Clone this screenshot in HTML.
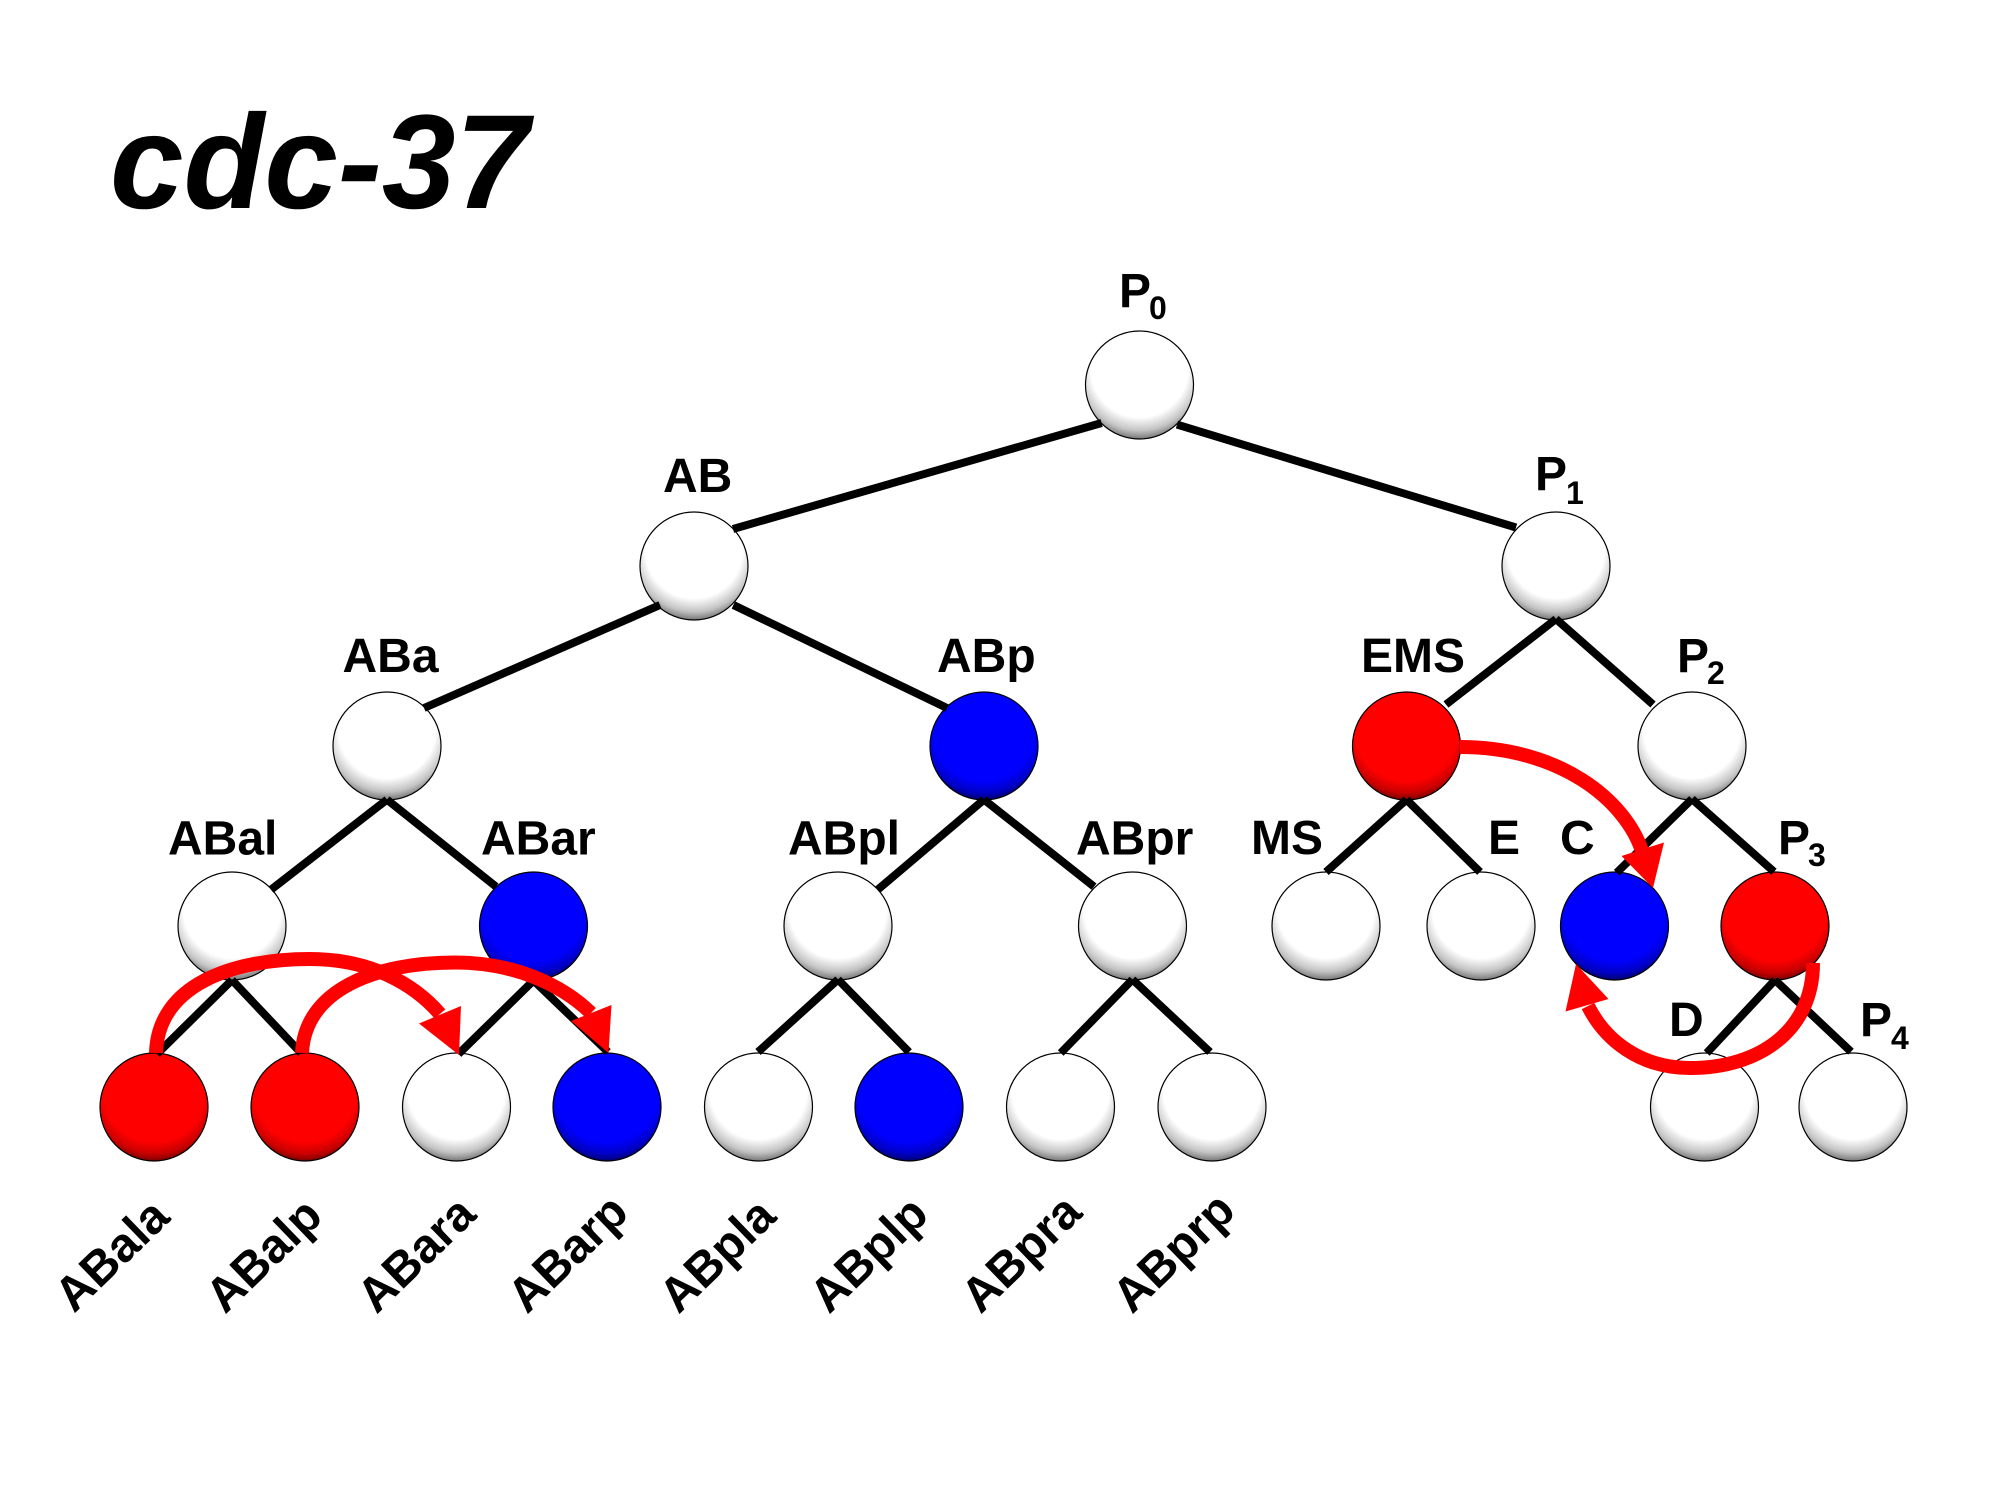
<!DOCTYPE html>
<html>
<head>
<meta charset="utf-8">
<style>
  html, body { margin: 0; padding: 0; background: #ffffff; }
  svg { display: block; }
  text { font-family: "Liberation Sans", "DejaVu Sans", sans-serif; font-weight: bold; fill: #000; }
</style>
</head>
<body>
<svg width="1990" height="1493" viewBox="0 0 1990 1493" xmlns="http://www.w3.org/2000/svg">
  <defs>
    <radialGradient id="gw" cx="50%" cy="35%" r="68%">
      <stop offset="0" stop-color="#ffffff"/>
      <stop offset="0.66" stop-color="#ffffff"/>
      <stop offset="0.84" stop-color="#c4c4c4"/>
      <stop offset="1" stop-color="#5a5a5a"/>
    </radialGradient>
    <radialGradient id="gr" cx="50%" cy="35%" r="68%">
      <stop offset="0" stop-color="#ff0000"/>
      <stop offset="0.70" stop-color="#ff0000"/>
      <stop offset="0.86" stop-color="#c80000"/>
      <stop offset="1" stop-color="#580000"/>
    </radialGradient>
    <radialGradient id="gb" cx="50%" cy="35%" r="68%">
      <stop offset="0" stop-color="#0000ff"/>
      <stop offset="0.70" stop-color="#0000ff"/>
      <stop offset="0.86" stop-color="#0000c4"/>
      <stop offset="1" stop-color="#00004a"/>
    </radialGradient>
  </defs>

  <rect width="1990" height="1493" fill="#ffffff"/>

  <!-- Title -->
  <text x="110" y="208" font-size="134" font-style="italic" textLength="419" lengthAdjust="spacingAndGlyphs">cdc-37</text>

  <!-- Nodes -->
  <g stroke="#000" stroke-width="1.2">
    <circle cx="1139.5" cy="385" r="54" fill="url(#gw)"/>
    <circle cx="694" cy="566" r="54" fill="url(#gw)"/>
    <circle cx="1556" cy="566" r="54" fill="url(#gw)"/>
    <circle cx="387" cy="746" r="54" fill="url(#gw)"/>
    <circle cx="984" cy="746" r="54" fill="url(#gb)"/>
    <circle cx="1406.5" cy="746" r="54" fill="url(#gr)"/>
    <circle cx="1692" cy="746" r="54" fill="url(#gw)"/>
    <circle cx="232" cy="926" r="54" fill="url(#gw)"/>
    <circle cx="533.5" cy="926" r="54" fill="url(#gb)"/>
    <circle cx="838" cy="926" r="54" fill="url(#gw)"/>
    <circle cx="1132.5" cy="926" r="54" fill="url(#gw)"/>
    <circle cx="1326" cy="926" r="54" fill="url(#gw)"/>
    <circle cx="1481" cy="926" r="54" fill="url(#gw)"/>
    <circle cx="1614.5" cy="926" r="54" fill="url(#gb)"/>
    <circle cx="1775" cy="926" r="54" fill="url(#gr)"/>
    <circle cx="154" cy="1107" r="54" fill="url(#gr)"/>
    <circle cx="305" cy="1107" r="54" fill="url(#gr)"/>
    <circle cx="456.5" cy="1107" r="54" fill="url(#gw)"/>
    <circle cx="607" cy="1107" r="54" fill="url(#gb)"/>
    <circle cx="758.5" cy="1107" r="54" fill="url(#gw)"/>
    <circle cx="909" cy="1107" r="54" fill="url(#gb)"/>
    <circle cx="1060.5" cy="1107" r="54" fill="url(#gw)"/>
    <circle cx="1212" cy="1107" r="54" fill="url(#gw)"/>
    <circle cx="1704.5" cy="1107" r="54" fill="url(#gw)"/>
    <circle cx="1853" cy="1107" r="54" fill="url(#gw)"/>
  </g>

  <!-- Tree lines -->
  <g stroke="#000" stroke-width="8" stroke-linecap="butt" fill="none">
    <line x1="1101.6" y1="423" x2="733" y2="529"/>
    <line x1="1177" y1="424.6" x2="1516" y2="527.5"/>
    <line x1="660" y1="605" x2="424" y2="708"/>
    <line x1="733.4" y1="605" x2="947" y2="708"/>
    <line x1="1556" y1="619" x2="1446" y2="704.5"/>
    <line x1="1556" y1="619" x2="1653" y2="704.5"/>
    <line x1="387" y1="799.6" x2="271" y2="889.7"/>
    <line x1="387" y1="799.6" x2="496" y2="886.6"/>
    <line x1="984" y1="799.6" x2="877.7" y2="889.7"/>
    <line x1="984" y1="799.6" x2="1094" y2="886.6"/>
    <line x1="1406.5" y1="799.6" x2="1326" y2="872"/>
    <line x1="1406.5" y1="799.6" x2="1480" y2="872"/>
    <line x1="1692" y1="799" x2="1616.7" y2="872.7"/>
    <line x1="1692" y1="799" x2="1774" y2="871.7"/>
    <line x1="232" y1="980" x2="157" y2="1054"/>
    <line x1="232" y1="980" x2="301" y2="1053"/>
    <line x1="533.5" y1="980.5" x2="458.5" y2="1054"/>
    <line x1="533.5" y1="980.5" x2="608" y2="1052"/>
    <line x1="838" y1="979.5" x2="758" y2="1052"/>
    <line x1="838" y1="979.5" x2="909" y2="1052"/>
    <line x1="1132.5" y1="979.5" x2="1060.7" y2="1053"/>
    <line x1="1132.5" y1="979.5" x2="1210" y2="1052"/>
    <line x1="1775" y1="980" x2="1706.7" y2="1053"/>
    <line x1="1775" y1="980" x2="1851" y2="1051.7"/>
  </g>

  <!-- Red arrows -->
  <g stroke="#ff0000" stroke-width="14" fill="none" stroke-linecap="butt">
    <path d="M156,1053 C158,985 232,959 310,959 C372,959 415,985 440,1014"/>
    <path d="M302,1053 C305,990 375,962.5 455,962.5 C515,962.5 562,985 591,1013"/>
    <path d="M1460,747 C1560,747 1625,800 1642,851"/>
    <path d="M1813,963 C1813,1030 1760,1068 1690,1068 C1640,1068 1605,1040 1588,1006"/>
  </g>
  <g fill="#ff0000" stroke="none">
    <polygon points="419,1023.5 461,1006 459,1055"/>
    <polygon points="571,1021 611.5,1005 608.5,1053"/>
    <polygon points="1621.5,856 1664,842.5 1653,888"/>
    <polygon points="1565.5,1011.5 1608.5,999 1576,964"/>
  </g>

  <!-- Horizontal labels -->
  <g font-size="48">
    <text x="1119" y="307">P</text>
    <text x="1149" y="319" font-size="32">0</text>
    <text x="663" y="492">AB</text>
    <text x="1535" y="490">P</text>
    <text x="1566" y="504" font-size="32">1</text>
    <text x="342.5" y="672">ABa</text>
    <text x="937" y="672">ABp</text>
    <text x="1361" y="672">EMS</text>
    <text x="1677" y="672">P</text>
    <text x="1707" y="684" font-size="32">2</text>
    <text x="168" y="854.5">ABal</text>
    <text x="481" y="854.5">ABar</text>
    <text x="788" y="854.5">ABpl</text>
    <text x="1076" y="854.5">ABpr</text>
    <text x="1251" y="854">MS</text>
    <text x="1488" y="854">E</text>
    <text x="1560" y="854">C</text>
    <text x="1778" y="854">P</text>
    <text x="1808" y="866" font-size="32">3</text>
    <text x="1669" y="1036">D</text>
    <text x="1860" y="1036">P</text>
    <text x="1891" y="1049" font-size="32">4</text>
  </g>

  <!-- Rotated bottom labels -->
  <g font-size="48">
    <text x="74" y="1314" transform="rotate(-44 74 1314)">ABala</text>
    <text x="225" y="1315" transform="rotate(-44 225 1315)">ABalp</text>
    <text x="376.5" y="1315" transform="rotate(-44 376.5 1315)">ABara</text>
    <text x="527" y="1315" transform="rotate(-44 527 1315)">ABarp</text>
    <text x="678.5" y="1315" transform="rotate(-44 678.5 1315)">ABpla</text>
    <text x="829" y="1315" transform="rotate(-44 829 1315)">ABplp</text>
    <text x="980.5" y="1315" transform="rotate(-44 980.5 1315)">ABpra</text>
    <text x="1132" y="1315" transform="rotate(-44 1132 1315)">ABprp</text>
  </g>
</svg>
</body>
</html>
